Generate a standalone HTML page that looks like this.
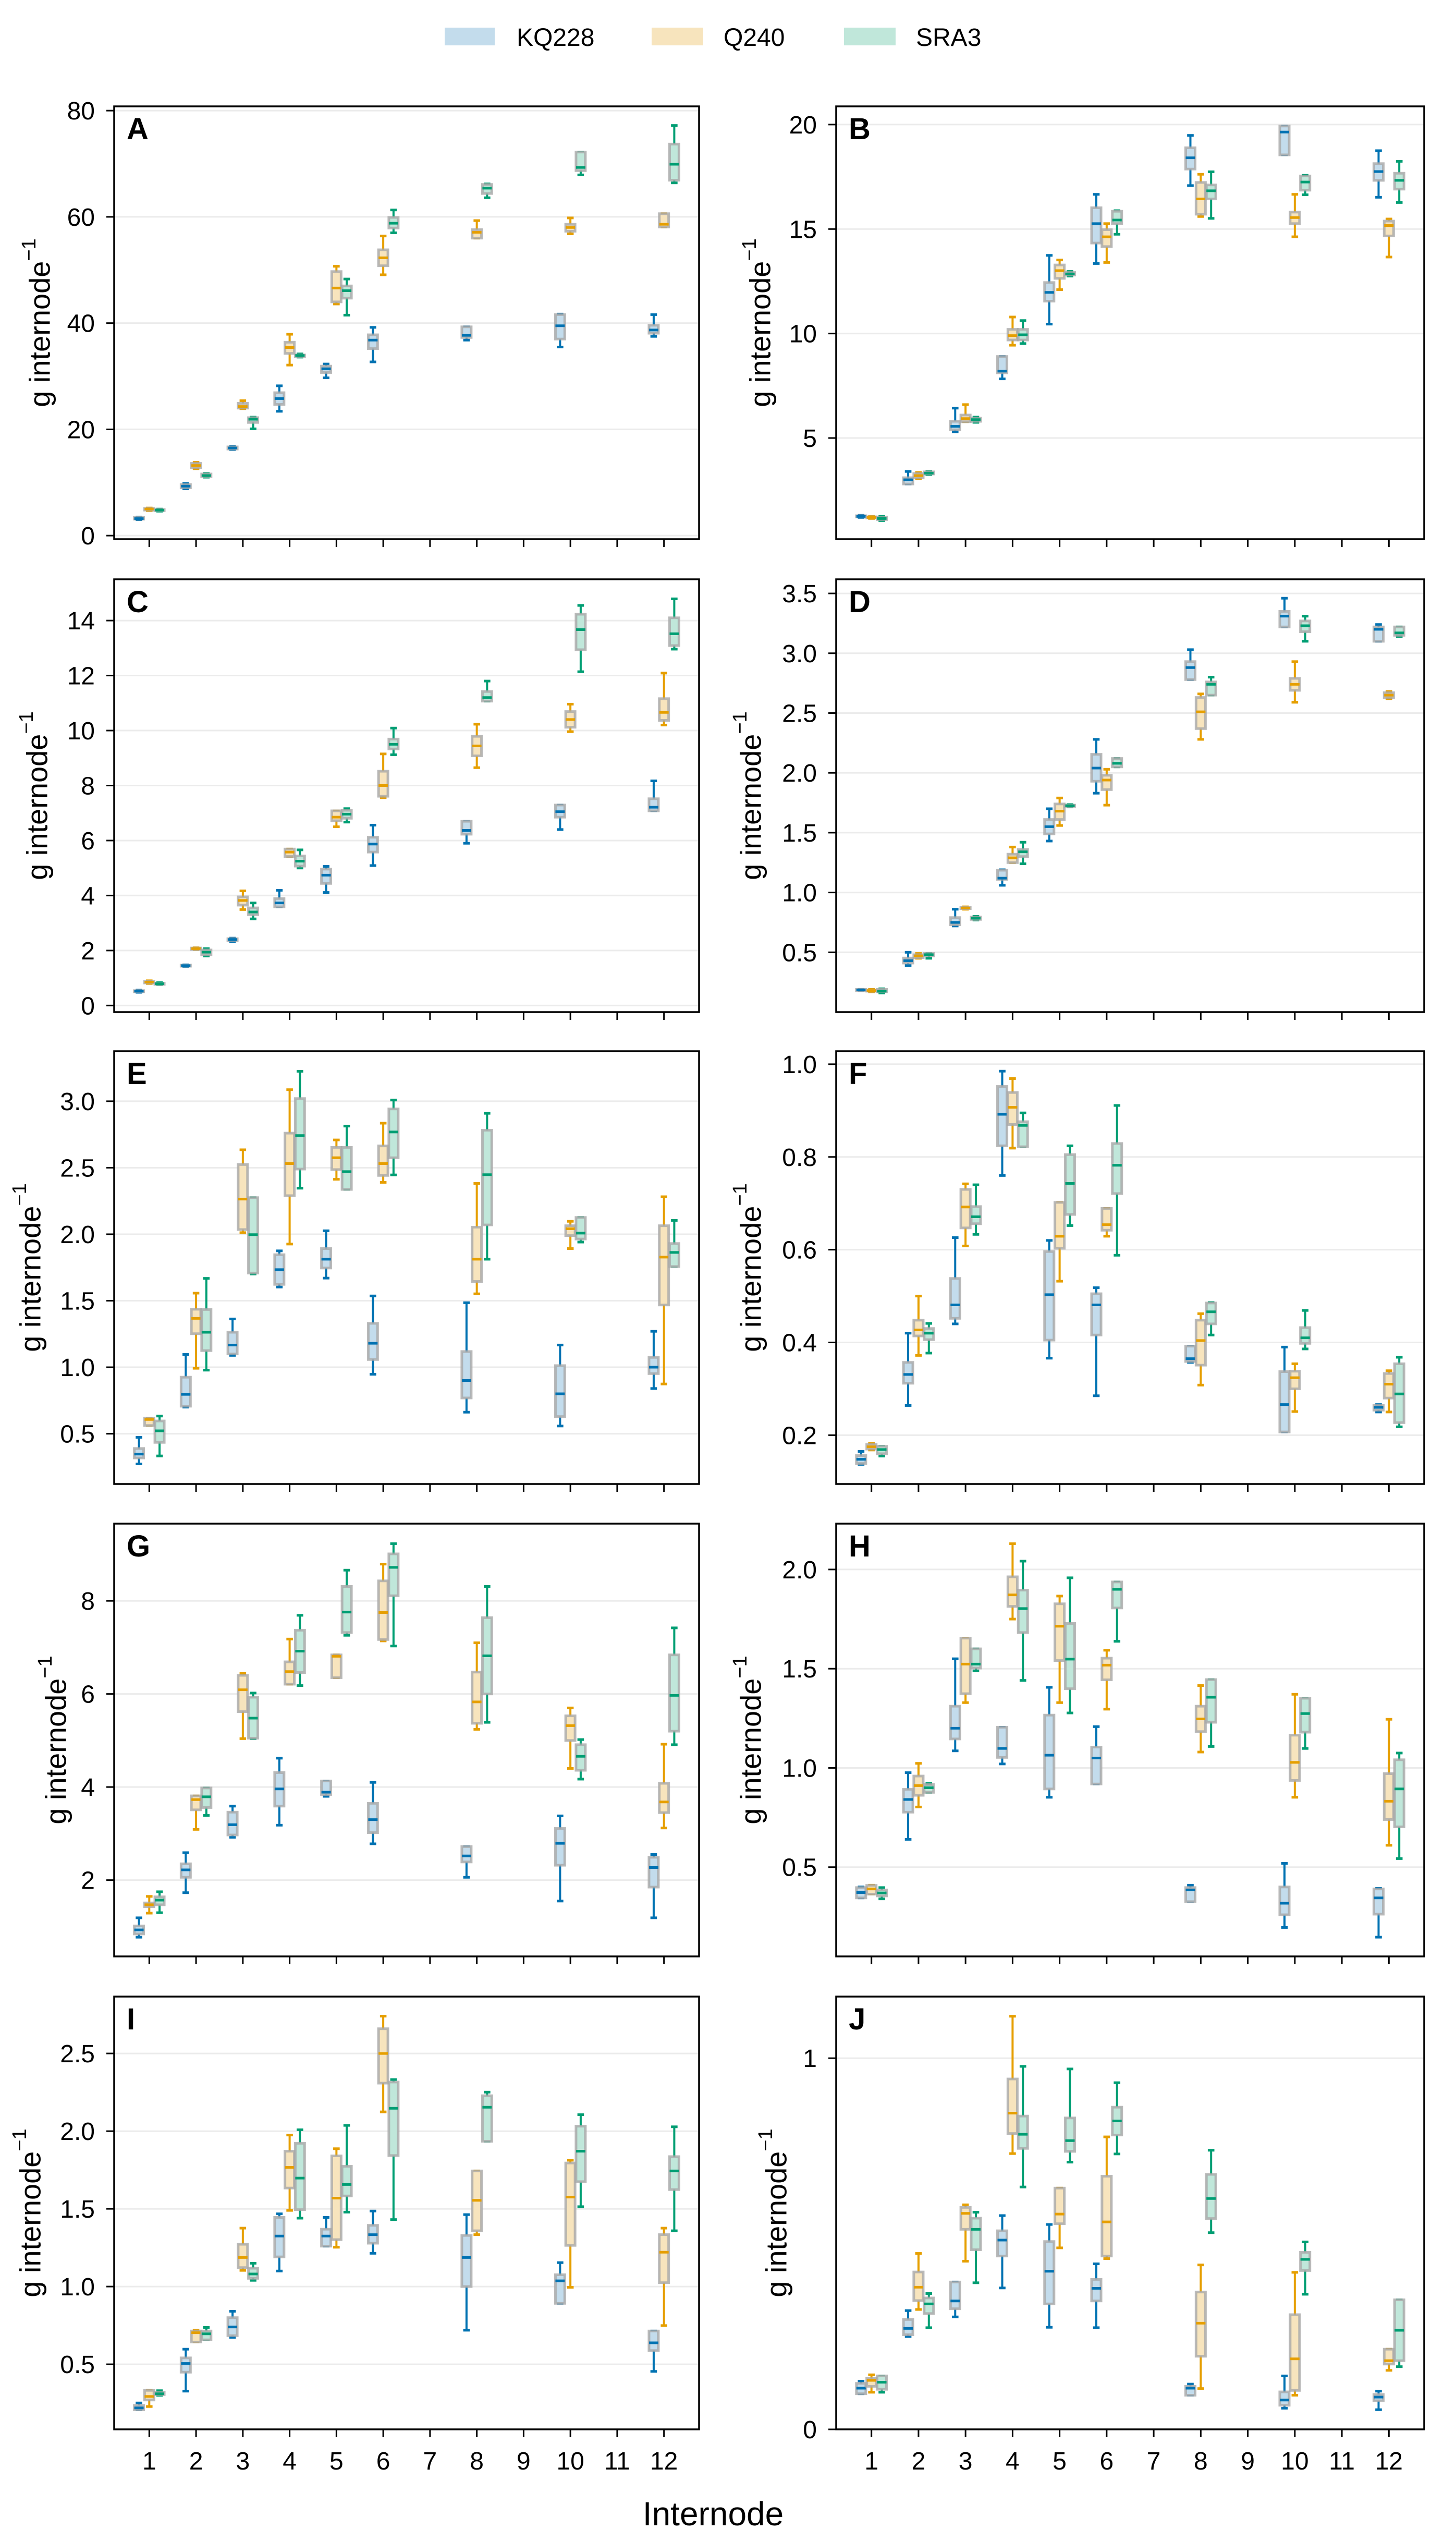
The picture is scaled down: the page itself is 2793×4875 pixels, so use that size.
<!DOCTYPE html>
<html><head><meta charset="utf-8"><style>
html,body{margin:0;padding:0;background:#fff}
svg{display:block;font-family:"Liberation Sans",sans-serif}
</style></head><body>
<svg id="fig" width="2793" height="4875" viewBox="0 0 2793 4875" xmlns="http://www.w3.org/2000/svg">
<rect x="0" y="0" width="2793" height="4875" fill="#fff"/>
<g>
<rect x="853" y="53" width="96" height="34" fill="#c3dcec"/>
<text x="991" y="88" font-size="48">KQ228</text>
<rect x="1250" y="53" width="99" height="34" fill="#f7e4bd"/>
<text x="1388" y="88" font-size="48">Q240</text>
<rect x="1619" y="53" width="99" height="34" fill="#c0e7da"/>
<text x="1757" y="88" font-size="48">SRA3</text>
</g>
<text x="1368" y="4843" font-size="64" text-anchor="middle">Internode</text>
<g id="plots"></g>
</svg>
<script>
const internodes=[1,2,3,4,5,6,8,10,12];
const xTickLabels=["1","2","3","4","5","6","7","8","9","10","11","12"];
const seriesNames=["KQ228","Q240","SRA3"];
const A_KQ=[[3.0,3.1,3.2,3.4,3.5],[8.8,9.0,9.3,9.6,9.8],[16.2,16.3,16.5,16.7,16.8],[23.4,24.7,25.8,26.9,28.2],[29.7,30.7,31.4,31.9,32.3],[32.7,35.2,36.8,37.8,39.2],[36.8,37.3,37.7,39.3,39.3],[35.5,37,39.5,41.6,41.7],[37.5,38.1,38.7,39.6,41.6]];
const A_Q=[[4.7,4.8,5,5.1,5.2],[12.6,12.8,13.2,13.6,13.8],[23.9,24.0,24.3,24.9,25.4],[32.1,34.3,35.4,36.4,37.9],[43.6,44,46.6,49.7,50.7],[49.1,50.8,52.3,53.8,56.4],[56,56,57.1,57.6,59.3],[56.8,57.3,58,58.6,59.8],[58.1,58.1,58.6,60.6,60.6]];
const A_S=[[4.6,4.7,4.8,4.9,5],[11,11.1,11.3,11.6,11.7],[20.1,21.3,21.9,22.2,22.3],[33.6,33.7,33.9,34.0,34.2],[41.5,44.7,46.1,47,48.3],[57,57.9,58.8,59.9,61.3],[63.6,64.4,65.4,66.1,66.2],[67.9,68.7,69.3,72.2,72.2],[66.4,66.9,69.9,73.7,77.2]];
const B_KQ=[[1.2,1.22,1.25,1.28,1.3],[2.8,2.8,3.0,3.1,3.4],[5.3,5.39,5.56,5.8,6.43],[7.83,8.12,8.2,8.9,8.9],[10.45,11.55,11.97,12.44,13.74],[13.35,14.33,15.26,16.02,16.66],[17.08,17.87,18.41,18.89,19.48],[18.55,18.55,19.64,19.93,19.93],[16.52,17.33,17.75,18.13,18.75]];
const B_Q=[[1.15,1.17,1.2,1.23,1.25],[3.05,3.1,3.2,3.3,3.35],[5.78,5.78,5.93,6.1,6.6],[9.44,9.69,9.9,10.2,10.79],[12.1,12.64,13.01,13.28,13.52],[13.4,14.16,14.63,14.97,15.26],[15.6,15.71,16.44,17.23,17.62],[14.63,15.26,15.55,15.81,16.66],[13.66,14.67,15.17,15.38,15.48]];
const B_S=[[1.05,1.1,1.15,1.22,1.25],[3.25,3.28,3.32,3.38,3.4],[5.75,5.8,5.88,5.95,6.0],[9.52,9.69,9.94,10.2,10.62],[12.75,12.8,12.85,12.92,12.97],[14.75,15.26,15.43,15.85,15.88],[15.51,16.44,16.83,17.11,17.74],[16.64,16.86,17.25,17.54,17.57],[16.27,16.91,17.33,17.67,18.24]];
const C_KQ=[[0.48,0.5,0.52,0.54,0.56],[1.42,1.43,1.45,1.47,1.48],[2.33,2.36,2.4,2.43,2.45],[3.59,3.59,3.73,3.89,4.19],[4.11,4.44,4.74,4.96,5.06],[5.09,5.58,5.87,6.12,6.56],[5.9,6.23,6.37,6.7,6.7],[6.4,6.85,7.05,7.29,7.29],[7.08,7.08,7.21,7.52,8.17]];
const C_Q=[[0.8,0.82,0.85,0.88,0.9],[2.03,2.04,2.07,2.09,2.1],[3.49,3.65,3.82,3.95,4.17],[5.42,5.42,5.58,5.69,5.69],[6.5,6.72,6.85,7.08,7.08],[7.56,7.61,8.0,8.52,9.15],[8.65,9.08,9.44,9.79,10.23],[9.96,10.12,10.4,10.69,10.96],[10.2,10.37,10.66,11.16,12.09]];
const C_S=[[0.76,0.77,0.79,0.81,0.83],[1.8,1.85,1.94,2.02,2.07],[3.15,3.3,3.4,3.55,3.73],[5.0,5.07,5.25,5.44,5.66],[6.67,6.81,6.96,7.1,7.16],[9.12,9.33,9.5,9.69,10.09],[11.07,11.07,11.2,11.42,11.8],[12.14,12.94,13.67,14.23,14.55],[12.96,13.09,13.52,14.1,14.79]];
const D_KQ=[[0.18,0.18,0.185,0.19,0.19],[0.39,0.41,0.43,0.452,0.5],[0.72,0.73,0.75,0.79,0.86],[1.06,1.11,1.12,1.186,1.19],[1.43,1.49,1.55,1.61,1.7],[1.83,1.93,2.04,2.155,2.28],[2.78,2.78,2.88,2.93,3.03],[3.22,3.22,3.31,3.35,3.46],[3.1,3.1,3.2,3.22,3.24]];
const D_Q=[[0.17,0.175,0.18,0.185,0.19],[0.45,0.455,0.47,0.48,0.49],[0.86,0.865,0.87,0.875,0.88],[1.25,1.25,1.29,1.32,1.38],[1.56,1.61,1.68,1.74,1.79],[1.73,1.86,1.94,1.98,2.03],[2.28,2.37,2.51,2.63,2.66],[2.59,2.69,2.74,2.79,2.93],[2.62,2.63,2.65,2.67,2.68]];
const D_S=[[0.16,0.17,0.175,0.19,0.195],[0.45,0.47,0.48,0.49,0.49],[0.77,0.775,0.785,0.795,0.8],[1.24,1.3,1.34,1.36,1.42],[1.715,1.72,1.725,1.73,1.735],[2.05,2.05,2.08,2.12,2.12],[2.65,2.65,2.74,2.76,2.8],[3.1,3.18,3.23,3.27,3.31],[3.14,3.15,3.17,3.22,3.22]];
const E_KQ=[[0.273,0.318,0.347,0.389,0.473],[0.7,0.707,0.796,0.925,1.096],[1.089,1.1,1.167,1.263,1.363],[1.603,1.623,1.734,1.846,1.875],[1.67,1.746,1.812,1.892,2.026],[0.947,1.058,1.18,1.33,1.536],[0.662,0.769,0.9,1.118,1.485],[0.558,0.629,0.8,1.012,1.167],[0.84,0.952,1.0,1.074,1.27]];
const E_Q=[[0.562,0.562,0.607,0.618,0.618],[0.992,1.252,1.367,1.436,1.557],[2.012,2.035,2.264,2.524,2.635],[1.926,2.29,2.531,2.76,3.087],[2.413,2.486,2.575,2.653,2.709],[2.39,2.442,2.531,2.664,2.835],[1.552,1.645,1.812,2.053,2.382],[1.892,1.99,2.041,2.064,2.097],[0.874,1.468,1.828,2.064,2.282]];
const E_S=[[0.333,0.435,0.522,0.596,0.633],[0.978,1.125,1.263,1.434,1.668],[1.701,1.708,1.997,2.275,2.275],[2.346,2.49,2.742,3.02,3.225],[2.337,2.337,2.471,2.653,2.813],[2.446,2.575,2.769,2.942,3.009],[1.812,2.07,2.448,2.782,2.909],[1.941,1.964,2.008,2.126,2.126],[1.757,1.757,1.863,1.93,2.104]];
const F_KQ=[[0.137,0.139,0.148,0.156,0.165],[0.264,0.312,0.331,0.357,0.42],[0.44,0.452,0.481,0.538,0.626],[0.76,0.824,0.892,0.952,0.985],[0.366,0.405,0.503,0.596,0.62],[0.285,0.416,0.481,0.505,0.518],[0.357,0.359,0.365,0.392,0.392],[0.207,0.207,0.266,0.337,0.39],[0.25,0.254,0.26,0.264,0.266]];
const F_Q=[[0.168,0.17,0.175,0.18,0.182],[0.372,0.414,0.427,0.448,0.5],[0.608,0.647,0.692,0.73,0.742],[0.819,0.87,0.907,0.939,0.969],[0.532,0.603,0.629,0.702,0.702],[0.629,0.642,0.654,0.689,0.689],[0.308,0.351,0.404,0.448,0.462],[0.251,0.3,0.324,0.338,0.354],[0.25,0.28,0.31,0.333,0.339]];
const F_S=[[0.155,0.16,0.169,0.176,0.176],[0.377,0.406,0.42,0.43,0.441],[0.633,0.656,0.671,0.693,0.74],[0.822,0.822,0.868,0.876,0.895],[0.652,0.676,0.743,0.805,0.824],[0.588,0.721,0.782,0.829,0.911],[0.416,0.44,0.466,0.485,0.486],[0.386,0.398,0.41,0.432,0.469],[0.218,0.227,0.289,0.354,0.368]];
const G_KQ=[[0.773,0.843,0.93,1.015,1.19],[1.73,2.06,2.22,2.35,2.59],[2.92,2.97,3.19,3.46,3.59],[3.18,3.59,3.96,4.31,4.62],[3.8,3.84,3.89,4.13,4.13],[2.78,3.02,3.3,3.65,4.1],[2.06,2.39,2.52,2.72,2.72],[1.55,2.32,2.79,3.11,3.38],[1.19,1.85,2.27,2.49,2.55]];
const G_Q=[[1.29,1.43,1.47,1.51,1.65],[3.09,3.51,3.73,3.81,3.81],[5.04,5.62,6.09,6.4,6.44],[6.21,6.21,6.48,6.69,7.18],[6.35,6.35,6.81,6.84,6.84],[7.14,7.17,7.75,8.43,8.79],[5.24,5.37,5.83,6.47,7.1],[4.4,5.0,5.32,5.53,5.7],[3.12,3.45,3.68,4.08,4.92]];
const G_S=[[1.3,1.47,1.57,1.64,1.75],[3.39,3.56,3.79,3.98,3.98],[5.04,5.05,5.48,5.93,6.02],[6.18,6.46,6.92,7.37,7.69],[7.26,7.32,7.76,8.31,8.66],[7.03,8.11,8.72,9.01,9.23],[5.39,6.0,6.82,7.64,8.31],[4.17,4.36,4.66,4.91,5.02],[4.91,5.2,5.97,6.84,7.42]];
const H_KQ=[[0.345,0.345,0.372,0.397,0.4],[0.64,0.777,0.841,0.892,0.976],[1.086,1.146,1.2,1.311,1.55],[1.02,1.053,1.098,1.205,1.205],[0.852,0.894,1.064,1.266,1.406],[0.919,0.919,1.05,1.105,1.208],[0.326,0.326,0.385,0.397,0.409],[0.196,0.26,0.318,0.4,0.519],[0.147,0.263,0.345,0.39,0.393]];
const H_Q=[[0.364,0.364,0.39,0.408,0.409],[0.803,0.862,0.911,0.959,1.023],[1.329,1.374,1.523,1.654,1.654],[1.75,1.814,1.872,1.963,2.13],[1.329,1.541,1.714,1.827,1.866],[1.296,1.444,1.518,1.553,1.593],[1.08,1.183,1.247,1.311,1.415],[0.852,0.937,1.028,1.165,1.371],[0.61,0.74,0.832,0.971,1.245]];
const H_S=[[0.34,0.355,0.37,0.385,0.397],[0.877,0.877,0.9,0.916,0.922],[1.489,1.503,1.523,1.6,1.6],[1.441,1.682,1.803,1.896,2.042],[1.277,1.399,1.548,1.728,1.958],[1.638,1.806,1.9,1.937,1.937],[1.108,1.23,1.356,1.445,1.445],[1.098,1.18,1.274,1.351,1.351],[0.543,0.703,0.894,1.041,1.075]];
const I_KQ=[[0.207,0.207,0.219,0.235,0.251],[0.327,0.449,0.505,0.541,0.597],[0.673,0.684,0.74,0.8,0.841],[1.1,1.191,1.325,1.445,1.468],[1.26,1.26,1.325,1.369,1.445],[1.214,1.279,1.334,1.394,1.486],[0.719,1.0,1.187,1.329,1.463],[0.892,0.892,1.037,1.076,1.154],[0.454,0.588,0.638,0.714,0.714]];
const I_Q=[[0.228,0.27,0.293,0.332,0.332],[0.643,0.643,0.703,0.714,0.719],[1.104,1.122,1.187,1.272,1.376],[1.49,1.634,1.767,1.871,1.975],[1.253,1.302,1.569,1.841,1.887],[2.124,2.309,2.5,2.659,2.74],[1.334,1.359,1.555,1.744,1.744],[0.995,1.265,1.576,1.795,1.813],[0.749,1.025,1.221,1.334,1.376]];
const I_S=[[0.3,0.305,0.31,0.32,0.33],[0.657,0.657,0.696,0.714,0.737],[1.04,1.053,1.081,1.118,1.15],[1.44,1.495,1.698,1.922,2.009],[1.479,1.583,1.657,1.774,2.037],[1.431,1.843,2.147,2.316,2.332],[1.935,1.935,2.154,2.228,2.251],[1.514,1.675,1.871,2.032,2.106],[1.359,1.624,1.744,1.836,2.028]];
const J_KQ=[[0.096,0.096,0.111,0.124,0.13],[0.25,0.255,0.272,0.296,0.32],[0.303,0.325,0.346,0.397,0.397],[0.381,0.467,0.51,0.535,0.576],[0.275,0.338,0.426,0.506,0.552],[0.274,0.346,0.38,0.404,0.446],[0.092,0.092,0.111,0.116,0.122],[0.057,0.065,0.079,0.101,0.144],[0.053,0.077,0.087,0.094,0.103]];
const J_Q=[[0.1,0.116,0.132,0.137,0.147],[0.323,0.347,0.383,0.424,0.474],[0.453,0.539,0.582,0.598,0.605],[0.743,0.797,0.852,0.944,1.113],[0.489,0.554,0.58,0.65,0.65],[0.46,0.467,0.559,0.682,0.788],[0.11,0.197,0.286,0.37,0.443],[0.092,0.105,0.19,0.309,0.423],[0.159,0.176,0.185,0.216,0.216]];
const J_S=[[0.1,0.108,0.127,0.144,0.144],[0.274,0.312,0.338,0.354,0.366],[0.395,0.484,0.539,0.569,0.585],[0.653,0.757,0.795,0.844,0.978],[0.72,0.749,0.778,0.839,0.971],[0.742,0.793,0.831,0.868,0.934],[0.53,0.568,0.622,0.687,0.752],[0.364,0.428,0.458,0.477,0.505],[0.169,0.185,0.267,0.349,0.349]];
const A_ticks=[0,20,40,60,80];
const B_ticks=[5,10,15,20];
const C_ticks=[0,2,4,6,8,10,12,14];
const D_ticks=[0.5,1.0,1.5,2.0,2.5,3.0,3.5];
const E_ticks=[0.5,1.0,1.5,2.0,2.5,3.0];
const F_ticks=[0.2,0.4,0.6,0.8,1.0];
const G_ticks=[2,4,6,8];
const H_ticks=[0.5,1.0,1.5,2.0];
const I_ticks=[0.5,1.0,1.5,2.0,2.5];
const J_ticks=[0,1];

const NS="http://www.w3.org/2000/svg";
const root=document.getElementById('plots');
function mk(tag,attrs,parent){const e=document.createElementNS(NS,tag);for(const k in attrs)e.setAttribute(k,attrs[k]);parent.appendChild(e);return e;}
const colors=[["#0072B2","#c3dcec"],["#E69F00","#f7e4bd"],["#009E73","#c0e7da"]];
const offsets=[-0.22,0,0.22];
const panels=[
 {id:"A",x:219,y:204,w:1122,lo:-0.67,hi:80.8,ticks:A_ticks,dec:0,data:[A_KQ,A_Q,A_S],yl:76},
 {id:"B",x:1604,y:204,w:1128,lo:0.16,hi:20.87,ticks:B_ticks,dec:0,data:[B_KQ,B_Q,B_S],yl:1458},
 {id:"C",x:219,y:1111,w:1122,lo:-0.24,hi:15.5,ticks:C_ticks,dec:0,data:[C_KQ,C_Q,C_S],yl:71},
 {id:"D",x:1604,y:1111,w:1128,lo:0.0,hi:3.618,ticks:D_ticks,dec:1,data:[D_KQ,D_Q,D_S],yl:1440},
 {id:"E",x:219,y:2016,w:1122,lo:0.122,hi:3.376,ticks:E_ticks,dec:1,data:[E_KQ,E_Q,E_S],yl:58},
 {id:"F",x:1604,y:2016,w:1128,lo:0.0947,hi:1.028,ticks:F_ticks,dec:1,data:[F_KQ,F_Q,F_S],yl:1440},
 {id:"G",x:219,y:2922,w:1122,lo:0.36,hi:9.66,ticks:G_ticks,dec:0,data:[G_KQ,G_Q,G_S],yl:107},
 {id:"H",x:1604,y:2922,w:1128,lo:0.05,hi:2.231,ticks:H_ticks,dec:1,data:[H_KQ,H_Q,H_S],yl:1440},
 {id:"I",x:219,y:3829,w:1122,lo:0.081,hi:2.866,ticks:I_ticks,dec:1,data:[I_KQ,I_Q,I_S],yl:58,bottom:true},
 {id:"J",x:1604,y:3829,w:1128,lo:0.0,hi:1.166,ticks:J_ticks,dec:0,data:[J_KQ,J_Q,J_S],yl:1489,bottom:true}
];
const H=830, XLO=0.25, XHI=12.75;
panels.forEach(p=>{
  const g=mk('g',{},root);
  
  
  const sx=v=>p.x+(v-XLO)/(XHI-XLO)*p.w;
  const sy=v=>p.y+H-(v-p.lo)/(p.hi-p.lo)*H;
  p.ticks.forEach(t=>{const yy=sy(t);
    if(yy>p.y+2&&yy<p.y+H-2){const l=mk('line',{x1:p.x,x2:p.x+p.w,y1:yy,y2:yy,stroke:"#ebebeb","stroke-width":3},g);
    
    }
  });
  p.ticks.forEach(t=>{const yy=sy(t);
    const tk=mk('line',{x1:p.x-15,x2:p.x,y1:yy,y2:yy,stroke:"#000","stroke-width":3},g);
    
    
    const tx=mk('text',{x:p.x-37,y:yy+17,"font-size":48,"text-anchor":"end"},g);
    tx.textContent=t.toFixed(p.dec);
    
    
  });
  for(let i=1;i<=12;i++){const xx=sx(i);
    const tk=mk('line',{x1:xx,x2:xx,y1:p.y+H,y2:p.y+H+15,stroke:"#000","stroke-width":3},g);
    
    
    if(p.bottom){const tx=mk('text',{x:xx,y:p.y+H+77,"font-size":48,"text-anchor":"middle"},g);
      tx.textContent=xTickLabels[i-1];
      
      }
  }
  p.data.forEach((ser,si)=>{
    const [dark,light]=colors[si];
    ser.forEach((st,k)=>{
      const c=internodes[k]+offsets[si];
      const cx=sx(c), hw=0.1*p.w/(XHI-XLO), cw=0.07*p.w/(XHI-XLO);
      const bg=mk('g',{},g);
      
      
      mk('line',{x1:cx,x2:cx,y1:sy(st[0]),y2:sy(st[1]),stroke:dark,"stroke-width":4},bg);
      mk('line',{x1:cx,x2:cx,y1:sy(st[3]),y2:sy(st[4]),stroke:dark,"stroke-width":4},bg);
      mk('line',{x1:cx-cw,x2:cx+cw,y1:sy(st[0]),y2:sy(st[0]),stroke:dark,"stroke-width":5},bg);
      mk('line',{x1:cx-cw,x2:cx+cw,y1:sy(st[4]),y2:sy(st[4]),stroke:dark,"stroke-width":5},bg);
      const top=sy(st[3]),bot=sy(st[1]);
      mk('rect',{x:cx-hw,y:top,width:2*hw,height:Math.max(bot-top,1),fill:light,stroke:"#a8a8a8","stroke-opacity":0.8,"stroke-width":5},bg);
      mk('line',{x1:cx-hw,x2:cx+hw,y1:sy(st[2]),y2:sy(st[2]),stroke:dark,"stroke-width":5},bg);
    });
  });
  const fr=mk('rect',{x:p.x,y:p.y,width:p.w,height:H,fill:"none",stroke:"#000","stroke-width":3.5},g);
  
  
  const lb=mk('text',{x:p.x+24,y:p.y+63,"font-size":58,"font-weight":"bold"},g);
  lb.textContent=p.id;
  
  
  const cy=p.y+H/2;
  const yl=mk('text',{x:p.yl,y:cy,"font-size":56,"text-anchor":"middle",transform:`rotate(-90 ${p.yl} ${cy})`,"dominant-baseline":"central"},g);
  
  
  yl.appendChild(document.createTextNode('g internode'));
  const sup=mk('tspan',{"font-size":38,dy:-20},yl);
  sup.textContent='\u22121';
});
</script>
</body></html>
